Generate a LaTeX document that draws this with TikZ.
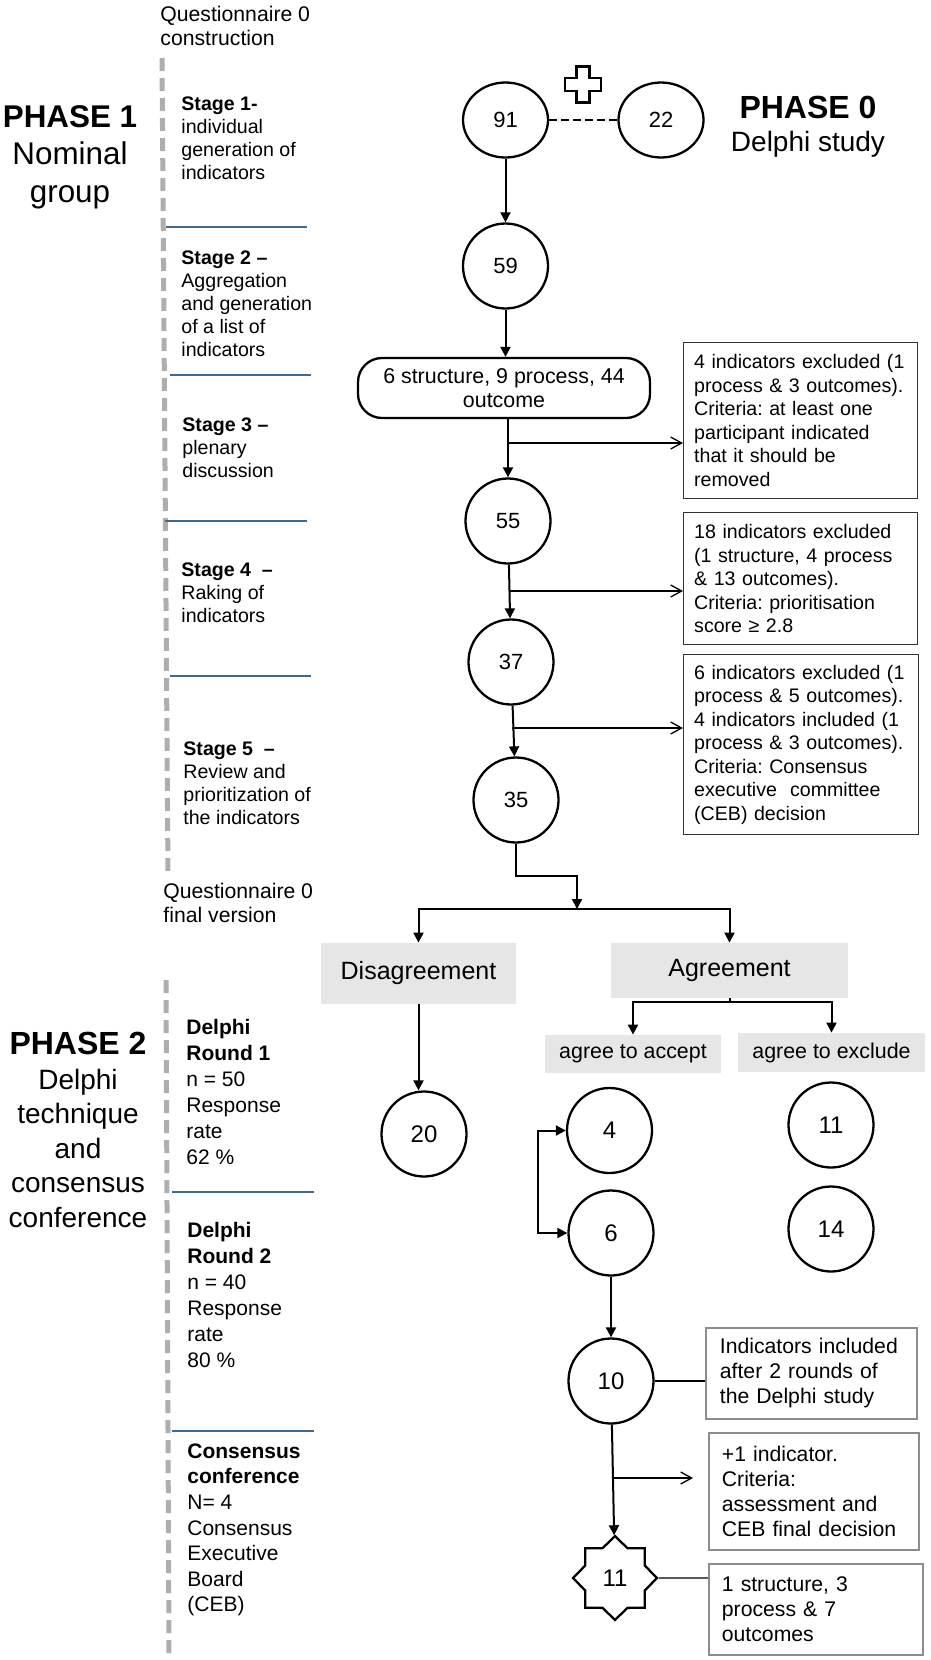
\documentclass[tikz,border=0pt]{standalone}
\usepackage{fontspec}
\setmainfont{Liberation Sans}
\usepackage{xcolor}
\usepackage{tikz}
\usetikzlibrary{arrows.meta,shapes.geometric,calc}

\definecolor{rulegray}{RGB}{174,174,174}
\definecolor{ruleblue}{RGB}{65,105,140}
\definecolor{labelgray}{RGB}{230,230,230}
\frenchspacing

\begin{document}
\begin{tikzpicture}[x=0.5pt,y=-0.5pt]

\tikzset{
  num/.style={circle, draw, line width=1.15pt, minimum size=42.5pt, inner sep=0pt, font=\fontsize{11}{13}\selectfont},
  bignum/.style={num, font=\fontsize{12}{14}\selectfont},
  oval/.style={ellipse, draw, line width=1.15pt, minimum width=42.5pt, minimum height=37.5pt, inner sep=0pt, font=\fontsize{11}{13}\selectfont},
  notebox/.style={draw=black!80, line width=0.7pt, anchor=north west, align=left, inner xsep=5.25pt, inner ysep=0pt, font=\fontsize{9.8}{11.75}\selectfont},
  lownote/.style={draw=black!45, line width=0.9pt, anchor=north west, align=left, inner xsep=6.5pt, inner ysep=0pt, font=\fontsize{10.6}{12.5}\selectfont},
  graybox/.style={fill=labelgray, inner sep=0pt},
  stagetext/.style={anchor=west, align=left, inner sep=0pt, font=\fontsize{9.8}{11.5}\selectfont},
  roundtext/.style={anchor=west, align=left, inner sep=0pt, font=\fontsize{10.5}{13}\selectfont},
  phasetext/.style={align=center, inner sep=0pt},
  arr/.style={line width=1pt, -{Triangle[length=5pt,width=5pt]}},
  sidearr/.style={line width=0.65pt, -{Straight Barb[length=5.5pt,width=6pt]}},
  stagerule/.style={draw=rulegray, line width=2.5pt, dash pattern=on 6.5pt off 3.5pt},
  stagesep/.style={draw=ruleblue, line width=1pt}
}

\useasboundingbox (0,0) rectangle (931,1660);

% left column, phase 1
\node[stagetext, font=\fontsize{10.6}{12}\selectfont] (qstart) at (160,26) {Questionnaire 0\\construction};
\draw[stagerule] (162,58) -- (168,875);
\node[phasetext, font=\fontsize{15.7}{18.8}\selectfont] (phase1) at (70,157) {\textbf{PHASE 1}\\Nominal\\group};

\node[stagetext] (stage1) at (181,138.5) {\textbf{Stage 1-}\\individual\\generation of\\indicators};
\draw[stagesep] (166,227) -- (307,227);
\node[stagetext] (stage2) at (181,303.5) {\textbf{Stage 2 –}\\Aggregation\\and generation\\of a list of\\indicators};
\draw[stagesep] (170,375) -- (311,375);
\node[stagetext] (stage3) at (182,448) {\textbf{Stage 3 –}\\plenary\\discussion};
\draw[stagesep] (165,521) -- (307,521);
\node[stagetext] (stage4) at (181,593) {\textbf{Stage 4 \ –}\\Raking of\\indicators};
\draw[stagesep] (170,676) -- (311,676);
\node[stagetext] (stage5) at (183,783) {\textbf{Stage 5 \ –}\\Review and\\prioritization of\\the indicators};
\node[stagetext, font=\fontsize{10.6}{12}\selectfont] (qfinal) at (163,903) {Questionnaire 0\\final version};

% left column, phase 2
\draw[stagerule] (166,980) -- (169,1655);
\node[phasetext, font=\fontsize{14}{17.25}\selectfont] (phase2) at (78,1130) {{\fontsize{16}{17.25}\selectfont\bfseries PHASE 2}\\Delphi\\technique\\and\\consensus\\conference};
\node[roundtext] (round1) at (186,1092) {\textbf{Delphi}\\\textbf{Round 1}\\n = 50\\Response\\rate\\62 \%};
\draw[stagesep] (172,1192) -- (314,1192);
\node[roundtext] (round2) at (187,1294.5) {\textbf{Delphi}\\\textbf{Round 2}\\n = 40\\Response\\rate\\80 \%};
\draw[stagesep] (172,1431) -- (314,1431);
\node[roundtext, font=\fontsize{10.5}{12.8}\selectfont] (confer) at (187,1530) {\textbf{Consensus}\\\textbf{conference}\\N= 4\\Consensus\\Executive\\Board\\(CEB)};

% phase 0 and nominal group flow
\node[oval] (n91) at (505.5,120) {91};
\node[oval] (n22) at (661,120) {22};
\draw[line width=1.15pt, dash pattern=on 4pt off 2pt] (n91) -- (n22);
\draw[line width=1.2pt, shift={(583,84.5)}] (-6.5,-18) -- (6.5,-18) -- (6.5,-6.5) -- (18,-6.5) -- (18,6.5) -- (6.5,6.5) -- (6.5,18) -- (-6.5,18) -- (-6.5,6.5) -- (-18,6.5) -- (-18,-6.5) -- (-6.5,-6.5) -- cycle;
\node[phasetext, font=\fontsize{14}{16.5}\selectfont] (phase0) at (808,127) {{\fontsize{16}{16.5}\selectfont\bfseries PHASE 0}\\Delphi study};

\node[num] (n59) at (505.5,266) {59};
\node[draw, line width=1.15pt, rounded corners=12pt, minimum width=146pt, minimum height=30pt, align=center, inner sep=0pt, font=\fontsize{10.7}{12.3}\selectfont] (list) at (504,388) {6 structure, 9 process, 44\\outcome};
\node[num] (n55) at (508,521) {55};
\node[num] (n37) at (511,662) {37};
\node[num] (n35) at (516,800) {35};

\draw[arr] (n91) -- (n59);
\draw[arr] (n59) -- (n59 |- list.north);
\draw[arr] (list.south -| n55) -- (n55);
\draw[arr] (n55) -- (n37);
\draw[arr] (n37) -- (n35);

\node[notebox, text width=106.5pt, minimum height=78pt] (box1) at (683,342) {4 indicators excluded (1\\process \& 3 outcomes).\\Criteria: at least one\\participant indicated\\that it should be\\removed};
\node[notebox, text width=106.5pt, minimum height=66pt] (box2) at (683,512) {18 indicators excluded\\(1 structure, 4 process\\\& 13 outcomes).\\Criteria: prioritisation\\score ≥ 2.8};
\node[notebox, text width=107pt, minimum height=90pt] (box3) at (683,654) {6 indicators excluded (1\\process \& 5 outcomes).\\4 indicators included (1\\process \& 3 outcomes).\\Criteria: Consensus\\executive \ committee\\(CEB) decision};

\coordinate (cut1) at (509,443);
\coordinate (cut2) at (510,591);
\coordinate (cut3) at (512,728);
\draw[sidearr] (cut1) -- (cut1 -| box1.west);
\draw[sidearr] (cut2) -- (cut2 -| box2.west);
\draw[sidearr] (cut3) -- (cut3 -| box3.west);

% phase 2 flow
\coordinate (bend) at (577,876);
\coordinate (split) at (577,909);
\draw[arr] (n35.south) |- (bend) -- (split);

\node[graybox, minimum width=97.5pt, minimum height=30.5pt, font=\fontsize{12.5}{14}\selectfont] (disag) at (418.5,973.5) {Disagreement};
\node[graybox, minimum width=118.5pt, minimum height=27.5pt, font=\fontsize{12.5}{14}\selectfont] (agree) at (729.5,970.5) {Agreement};
\node[graybox, minimum width=88pt, minimum height=19pt, font=\fontsize{10.7}{12}\selectfont] (accept) at (633,1054) {agree to accept};
\node[graybox, minimum width=93.5pt, minimum height=19.5pt, font=\fontsize{10.7}{12}\selectfont] (exclude) at (831.5,1052.5) {agree to exclude};

\draw[arr] (split) -| (disag);
\draw[arr] (split) -| (agree);
\draw[arr] (agree.south) -- ++(0,4) -| (accept);
\draw[arr] (agree.south) -- ++(0,4) -| (exclude);

\node[bignum] (n20) at (424,1134) {20};
\node[bignum] (n4) at (609.5,1130.5) {4};
\node[bignum] (n6) at (611,1233) {6};
\node[bignum] (n11) at (831,1125) {11};
\node[bignum] (n14) at (831,1229) {14};
\node[bignum] (n10) at (611,1381) {10};
\node[star, star points=8, star point ratio=1.3, draw, line width=1.15pt, minimum size=42pt, inner sep=0pt, font=\fontsize{12}{14}\selectfont] (final) at (615,1578) {11};

\draw[arr] (disag.south) -- (disag.south |- n20.north);
\coordinate (loop) at (538,1182);
\draw[arr] (loop) |- (n4);
\draw[arr] (loop) |- (n6);
\draw[arr] (n6) -- (n10);
\draw[arr] (n10) -- (final);

\node[lownote, inner xsep=7pt, text width=91.5pt, minimum height=45.5pt] (box4) at (705,1327) {Indicators included\\after 2 rounds of\\the Delphi study};
\node[lownote, text width=92pt, minimum height=58.5pt] (box5) at (708,1432) {+1 indicator.\\Criteria:\\assessment and\\CEB final decision};
\node[lownote, text width=94pt, minimum height=45.5pt] (box6) at (708,1563) {1 structure, 3\\process \& 7\\outcomes};

\draw[line width=0.7pt] (n10) -- (n10 -| box4.west);
\coordinate (cut4) at (613,1478);
\draw[sidearr, shorten >=7.5pt] (cut4) -- (cut4 -| box5.west);
\draw[line width=0.7pt] (final) -- (final -| box6.west);

\end{tikzpicture}
\end{document}
